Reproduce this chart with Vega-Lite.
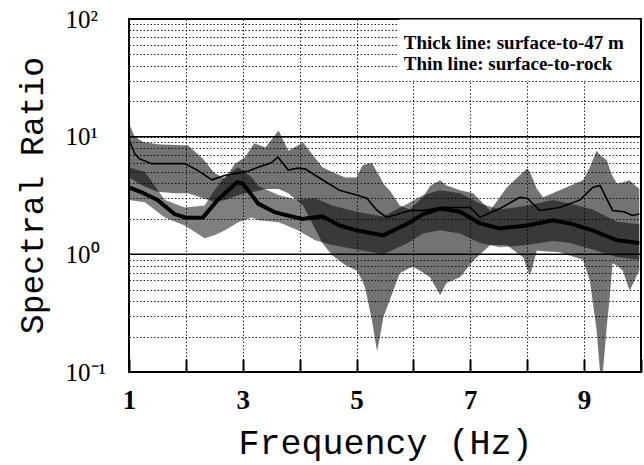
{
  "$schema": "https://vega.github.io/schema/vega-lite/v6.json",
  "width": 512,
  "height": 353,
  "autosize": "none",
  "padding": {"left": 129, "top": 19, "right": 3, "bottom": 93},
  "background": "white",
  "config": {
    "view": {"stroke": "black", "strokeWidth": 2},
    "axis": {"domain": false}
  },
  "datasets": {
    "rockBand": [
      {"f": 1.0, "lo": 4.5, "hi": 13},
      {"f": 1.1, "lo": 4.2, "hi": 10},
      {"f": 1.25, "lo": 3.8, "hi": 9.0},
      {"f": 1.5, "lo": 3.4, "hi": 8.6},
      {"f": 1.8, "lo": 3.3, "hi": 8.5},
      {"f": 2.04, "lo": 3.3, "hi": 8.4},
      {"f": 2.3, "lo": 3.0, "hi": 6.5},
      {"f": 2.5, "lo": 2.8, "hi": 4.9},
      {"f": 2.69, "lo": 2.9, "hi": 4.4},
      {"f": 2.86, "lo": 3.1, "hi": 5.9},
      {"f": 3.04, "lo": 3.3, "hi": 6.7},
      {"f": 3.2, "lo": 3.4, "hi": 8.8},
      {"f": 3.4, "lo": 3.6, "hi": 8.1},
      {"f": 3.63, "lo": 3.6, "hi": 11.3},
      {"f": 3.8, "lo": 3.3, "hi": 7.6},
      {"f": 4.06, "lo": 2.6, "hi": 8.9},
      {"f": 4.4, "lo": 1.25, "hi": 5.5},
      {"f": 4.57, "lo": 0.98, "hi": 5.0},
      {"f": 4.8, "lo": 0.81, "hi": 4.5},
      {"f": 5.0, "lo": 0.73, "hi": 4.5},
      {"f": 5.1, "lo": 0.6, "hi": 5.7},
      {"f": 5.15, "lo": 0.52, "hi": 5.8},
      {"f": 5.27, "lo": 0.275, "hi": 6.0},
      {"f": 5.36, "lo": 0.15, "hi": 5.0},
      {"f": 5.42, "lo": 0.21, "hi": 4.5},
      {"f": 5.47, "lo": 0.29, "hi": 4.0},
      {"f": 5.6, "lo": 0.43, "hi": 3.4},
      {"f": 5.76, "lo": 0.69, "hi": 2.6},
      {"f": 5.94, "lo": 0.77, "hi": 2.4},
      {"f": 6.0, "lo": 0.78, "hi": 2.6},
      {"f": 6.17, "lo": 0.7, "hi": 3.05},
      {"f": 6.29, "lo": 0.64, "hi": 3.8},
      {"f": 6.47, "lo": 0.45, "hi": 4.26},
      {"f": 6.58, "lo": 0.57, "hi": 3.85},
      {"f": 6.82, "lo": 0.64, "hi": 3.5},
      {"f": 7.05, "lo": 0.88, "hi": 3.3},
      {"f": 7.35, "lo": 1.2, "hi": 2.36},
      {"f": 7.64, "lo": 1.2, "hi": 3.7},
      {"f": 7.93, "lo": 0.94, "hi": 5.0},
      {"f": 8.0, "lo": 0.75, "hi": 5.4},
      {"f": 8.05, "lo": 0.66, "hi": 5.0},
      {"f": 8.17, "lo": 1.08, "hi": 3.6},
      {"f": 8.28, "lo": 1.06, "hi": 3.05},
      {"f": 8.57, "lo": 1.04, "hi": 3.5},
      {"f": 8.98, "lo": 0.9, "hi": 4.26},
      {"f": 9.1, "lo": 0.6, "hi": 5.5},
      {"f": 9.22, "lo": 0.226, "hi": 7.6},
      {"f": 9.28, "lo": 0.1, "hi": 7.0},
      {"f": 9.33, "lo": 0.1, "hi": 6.7},
      {"f": 9.4, "lo": 0.25, "hi": 6.3},
      {"f": 9.45, "lo": 0.43, "hi": 5.3},
      {"f": 9.5, "lo": 0.84, "hi": 4.6},
      {"f": 9.58, "lo": 0.8, "hi": 4.0},
      {"f": 9.68, "lo": 0.73, "hi": 4.1},
      {"f": 9.8, "lo": 0.49, "hi": 4.26},
      {"f": 9.97, "lo": 0.73, "hi": 3.6}
    ],
    "m47Band": [
      {"f": 1.0, "lo": 2.9, "hi": 5.5},
      {"f": 1.28, "lo": 2.77, "hi": 5.0},
      {"f": 1.63, "lo": 2.06, "hi": 2.9},
      {"f": 1.98, "lo": 1.76, "hi": 2.5},
      {"f": 2.33, "lo": 1.37, "hi": 2.6},
      {"f": 2.5, "lo": 1.45, "hi": 3.5},
      {"f": 2.69, "lo": 1.6, "hi": 4.6},
      {"f": 2.92, "lo": 1.87, "hi": 5.5},
      {"f": 3.16, "lo": 2.06, "hi": 4.5},
      {"f": 3.27, "lo": 1.95, "hi": 3.8},
      {"f": 3.63, "lo": 1.87, "hi": 3.2},
      {"f": 3.97, "lo": 1.6, "hi": 2.9},
      {"f": 4.27, "lo": 1.32, "hi": 3.0},
      {"f": 4.57, "lo": 1.2, "hi": 2.6},
      {"f": 5.0, "lo": 1.1, "hi": 2.3},
      {"f": 5.47, "lo": 1.0, "hi": 2.1},
      {"f": 5.9, "lo": 1.25, "hi": 2.7},
      {"f": 6.17, "lo": 1.5, "hi": 3.2},
      {"f": 6.47, "lo": 1.6, "hi": 3.5},
      {"f": 6.82, "lo": 1.5, "hi": 3.3},
      {"f": 7.17, "lo": 1.25, "hi": 2.7},
      {"f": 7.52, "lo": 1.15, "hi": 2.4},
      {"f": 8.0, "lo": 1.2, "hi": 2.6},
      {"f": 8.45, "lo": 1.3, "hi": 2.9},
      {"f": 8.75, "lo": 1.25, "hi": 2.7},
      {"f": 9.15, "lo": 1.1, "hi": 2.4},
      {"f": 9.57, "lo": 0.95, "hi": 1.9},
      {"f": 9.97, "lo": 0.9, "hi": 1.8}
    ],
    "rockLine": [
      {"f": 1.0, "v": 9.5}, {"f": 1.05, "v": 8.2}, {"f": 1.1, "v": 7.2}, {"f": 1.18, "v": 6.5},
      {"f": 1.4, "v": 5.9}, {"f": 1.7, "v": 5.9}, {"f": 1.98, "v": 5.9}, {"f": 2.2, "v": 5.2},
      {"f": 2.46, "v": 4.3}, {"f": 2.69, "v": 4.7}, {"f": 2.92, "v": 4.9}, {"f": 3.1, "v": 5.1},
      {"f": 3.27, "v": 5.5}, {"f": 3.5, "v": 6.0}, {"f": 3.62, "v": 6.7}, {"f": 3.8, "v": 5.2},
      {"f": 3.97, "v": 5.4}, {"f": 4.1, "v": 5.3}, {"f": 4.4, "v": 4.3}, {"f": 4.7, "v": 3.5},
      {"f": 5.0, "v": 3.2}, {"f": 5.18, "v": 3.0}, {"f": 5.36, "v": 2.36}, {"f": 5.53, "v": 2.06},
      {"f": 5.94, "v": 2.36}, {"f": 6.17, "v": 2.36}, {"f": 6.47, "v": 2.5}, {"f": 7.0, "v": 2.5},
      {"f": 7.17, "v": 2.06}, {"f": 7.52, "v": 2.45}, {"f": 7.87, "v": 3.05}, {"f": 8.0, "v": 3.0},
      {"f": 8.22, "v": 2.36}, {"f": 8.57, "v": 2.5}, {"f": 8.93, "v": 2.9}, {"f": 9.15, "v": 3.7},
      {"f": 9.28, "v": 3.85}, {"f": 9.5, "v": 2.36}, {"f": 9.7, "v": 2.3}, {"f": 9.85, "v": 2.14},
      {"f": 9.97, "v": 2.2}
    ],
    "m47Line": [
      {"f": 1.0, "v": 3.7}, {"f": 1.2, "v": 3.4}, {"f": 1.5, "v": 2.9}, {"f": 1.8, "v": 2.2},
      {"f": 2.0, "v": 2.05}, {"f": 2.3, "v": 2.06}, {"f": 2.56, "v": 2.9}, {"f": 2.9, "v": 4.1},
      {"f": 3.0, "v": 4.0}, {"f": 3.27, "v": 2.7}, {"f": 3.57, "v": 2.27}, {"f": 4.04, "v": 2.0},
      {"f": 4.4, "v": 2.1}, {"f": 4.7, "v": 1.76}, {"f": 5.0, "v": 1.6}, {"f": 5.47, "v": 1.45},
      {"f": 5.9, "v": 1.83}, {"f": 6.17, "v": 2.2}, {"f": 6.47, "v": 2.45}, {"f": 6.82, "v": 2.3},
      {"f": 7.17, "v": 1.83}, {"f": 7.52, "v": 1.66}, {"f": 8.0, "v": 1.76}, {"f": 8.45, "v": 1.95},
      {"f": 8.75, "v": 1.83}, {"f": 9.15, "v": 1.6}, {"f": 9.57, "v": 1.32}, {"f": 9.97, "v": 1.25}
    ],
    "decades": [{"v": 1}, {"v": 10}],
    "legendBox": [{"f": 5.75, "f2": 9.97, "v": 30, "v2": 99}],
    "legendText": [
      {"f": 5.83, "v": 56, "t": "Thick line: surface-to-47 m"},
      {"f": 5.83, "v": 37, "t": "Thin line: surface-to-rock"}
    ]
  },
  "encoding": {
    "x": {
      "field": "f", "type": "quantitative",
      "scale": {"domain": [1, 10], "nice": false, "zero": false},
      "axis": {
        "title": "Frequency (Hz)",
        "values": [1, 2, 3, 4, 5, 6, 7, 8, 9, 10],
        "labelExpr": "datum.value % 2 === 1 ? datum.label : ''",
        "labelFont": "Liberation Serif", "labelFontWeight": "bold", "labelFontSize": 27,
        "labelColor": "black", "labelBaseline": "alphabetic", "labelPadding": 36,
        "labelFlush": false, "offset": -13,
        "ticks": true, "tickColor": "black", "tickWidth": 2, "tickSize": 13,
        "grid": true, "gridColor": "black", "gridDash": [1.5, 2], "gridWidth": 1, "gridOpacity": 0.85,
        "titleFont": "Liberation Mono", "titleFontSize": 35, "titleFontWeight": "normal",
        "titleColor": "black", "titleBaseline": "alphabetic", "titleY": 94, "titleX": 256
      }
    },
    "y": {
      "field": "v", "type": "quantitative",
      "scale": {"type": "log", "domain": [0.1, 100], "nice": false},
      "axis": {
        "title": "Spectral Ratio",
        "values": [0.1, 0.2, 0.3, 0.4, 0.5, 0.6, 0.7, 0.8, 0.9, 1, 2, 3, 4, 5, 6, 7, 8, 9, 10, 20, 30, 40, 50, 60, 70, 80, 90, 100],
        "labelExpr": "datum.value == 100 ? '10²' : datum.value == 10 ? '10¹' : datum.value == 1 ? '10⁰' : datum.value == 0.1 ? '10⁻¹' : ''",
        "labelFont": "Liberation Serif", "labelFontSize": 25, "labelColor": "black",
        "labelAlign": "left", "labelBaseline": "middle", "labelPadding": 64, "ticks": false,
        "labelFlush": false, "labelOverlap": false,
        "grid": true, "gridColor": "black", "gridDash": [1.5, 2], "gridWidth": 1, "gridOpacity": 0.85,
        "titleFont": "Liberation Mono", "titleFontSize": 33, "titleFontWeight": "normal",
        "titleColor": "black", "titleAngle": -90, "titleBaseline": "alphabetic",
        "titleAlign": "center", "titleX": -87, "titleY": 176
      }
    }
  },
  "layer": [
    {
      "data": {"name": "decades"},
      "mark": {"type": "rule", "color": "black", "strokeWidth": 1.5},
      "encoding": {"x": {"value": 0}, "x2": {"value": 512}}
    },
    {
      "data": {"name": "rockBand"},
      "mark": {"type": "area", "color": "#000", "fillOpacity": 0.55, "clip": true},
      "encoding": {"y": {"field": "lo", "type": "quantitative"}, "y2": {"field": "hi"}}
    },
    {
      "data": {"name": "m47Band"},
      "mark": {"type": "area", "color": "#000", "fillOpacity": 0.5, "clip": true},
      "encoding": {"y": {"field": "lo", "type": "quantitative"}, "y2": {"field": "hi"}}
    },
    {
      "data": {"name": "rockLine"},
      "mark": {"type": "line", "color": "black", "strokeWidth": 1.6},
      "encoding": {}
    },
    {
      "data": {"name": "m47Line"},
      "mark": {"type": "line", "color": "black", "strokeWidth": 4},
      "encoding": {}
    },
    {
      "data": {"name": "legendBox"},
      "mark": {"type": "rect", "fill": "white"},
      "encoding": {"x2": {"field": "f2"}, "y2": {"field": "v2"}}
    },
    {
      "data": {"name": "legendText"},
      "mark": {"type": "text", "font": "Liberation Serif", "fontSize": 19, "fontWeight": "bold", "align": "left", "baseline": "alphabetic", "color": "black"},
      "encoding": {"text": {"field": "t"}}
    }
  ]
}
